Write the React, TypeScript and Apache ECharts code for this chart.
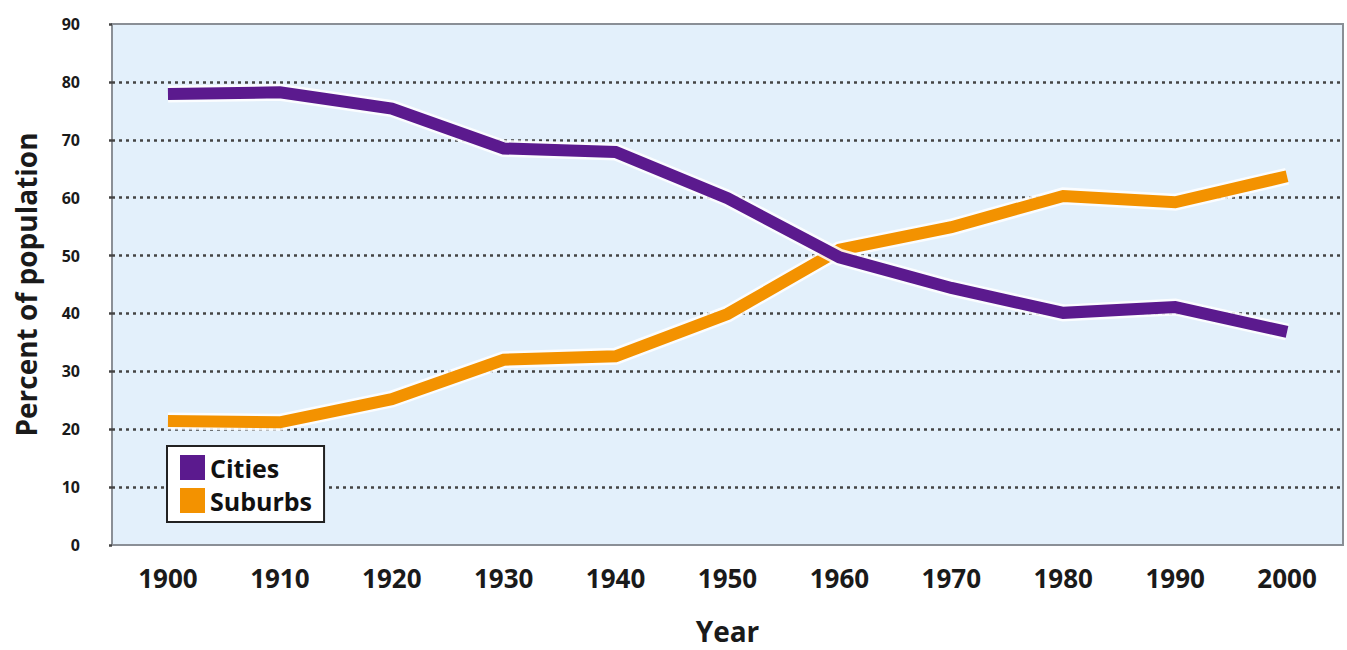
import React, { useEffect, useRef } from "react";
import * as echarts from "echarts";

const years = ["1900", "1910", "1920", "1930", "1940", "1950", "1960", "1970", "1980", "1990", "2000"];
const cities = [77.9, 78.2, 75.4, 68.5, 67.9, 59.9, 49.7, 44.4, 40.1, 41.1, 36.8];
const suburbs = [21.4, 21.2, 25.2, 32.0, 32.6, 39.9, 51.0, 54.9, 60.3, 59.2, 63.7];
const yTicks = { min: 0, max: 90, interval: 10 };

const PURPLE = "#5b1a8e";
const ORANGE = "#f39200";
const HALO = "rgba(255,255,255,0.85)";
const FONT = "'Open Sans', 'DejaVu Sans', sans-serif";

export default function App() {
  const ref = useRef<HTMLDivElement>(null);
  useEffect(() => {
    if (!ref.current) return;
    const chart = echarts.init(ref.current, null, { renderer: "svg" });
    const lineBase = (name: string, data: number[], color: string, width: number) => ({
      name,
      type: "line",
      data,
      showSymbol: false,
      symbol: "none",
      silent: true,
      lineStyle: { color, width, cap: "butt", join: "miter" },
      itemStyle: { color },
      legendHoverLink: false,
    });
    chart.setOption({
      animation: false,
      grid: {
        left: 112,
        right: 4,
        top: 24,
        bottom: 105,
        show: true,
        backgroundColor: "#e3f0fb",
        borderColor: "#8a8f96",
        borderWidth: 2,
      },
      legend: {
        data: ["Cities", "Suburbs"],
        orient: "vertical",
        left: 167,
        top: 446,
        icon: "rect",
        itemWidth: 25,
        itemHeight: 25,
        itemGap: 8,
        padding: [9, 12, 9, 13],
        backgroundColor: "#ffffff",
        borderColor: "#222222",
        borderWidth: 2,
        selectedMode: false,
        textStyle: {
          fontFamily: FONT,
          fontWeight: "bold",
          fontSize: 25,
          color: "#111",
        },
      },
      xAxis: {
        type: "category",
        data: years,
        boundaryGap: true,
        axisLine: { show: false },
        axisTick: { show: false },
        splitLine: { show: false },
        axisLabel: {
          fontFamily: FONT,
          fontWeight: "bold",
          fontSize: 26,
          color: "#1a1a1a",
          margin: 20,
        },
        name: "Year",
        nameLocation: "middle",
        nameGap: 72,
        nameTextStyle: {
          fontFamily: FONT,
          fontWeight: "bold",
          fontSize: 28,
          color: "#1a1a1a",
        },
      },
      yAxis: {
        type: "value",
        min: yTicks.min,
        max: yTicks.max,
        interval: yTicks.interval,
        axisLine: { show: false },
        axisTick: {
          show: true,
          length: 7,
          lineStyle: { color: "#444", width: 2.5, type: [3, 4] },
        },
        splitLine: {
          show: true,
          showMinLine: false,
          showMaxLine: false,
          lineStyle: { color: "#444", width: 2.5, type: [3, 4] },
        },
        axisLabel: {
          fontFamily: FONT,
          fontWeight: "bold",
          fontSize: 16,
          color: "#1a1a1a",
          margin: 32,
        },
        name: "Percent of population",
        nameLocation: "middle",
        nameGap: 72,
        nameRotate: 90,
        nameTextStyle: {
          fontFamily: FONT,
          fontWeight: "bold",
          fontSize: 28,
          color: "#1a1a1a",
        },
      },
      series: [
        lineBase("halo-suburbs", suburbs, HALO, 17),
        lineBase("Suburbs", suburbs, ORANGE, 12),
        lineBase("halo-cities", cities, HALO, 17),
        lineBase("Cities", cities, PURPLE, 12),
      ],
    });
    return () => chart.dispose();
  }, []);
  return (
    <div
      ref={ref}
      style={{ position: "fixed", left: 0, top: 0, width: 1347, height: 650, background: "#ffffff" }}
    />
  );
}
